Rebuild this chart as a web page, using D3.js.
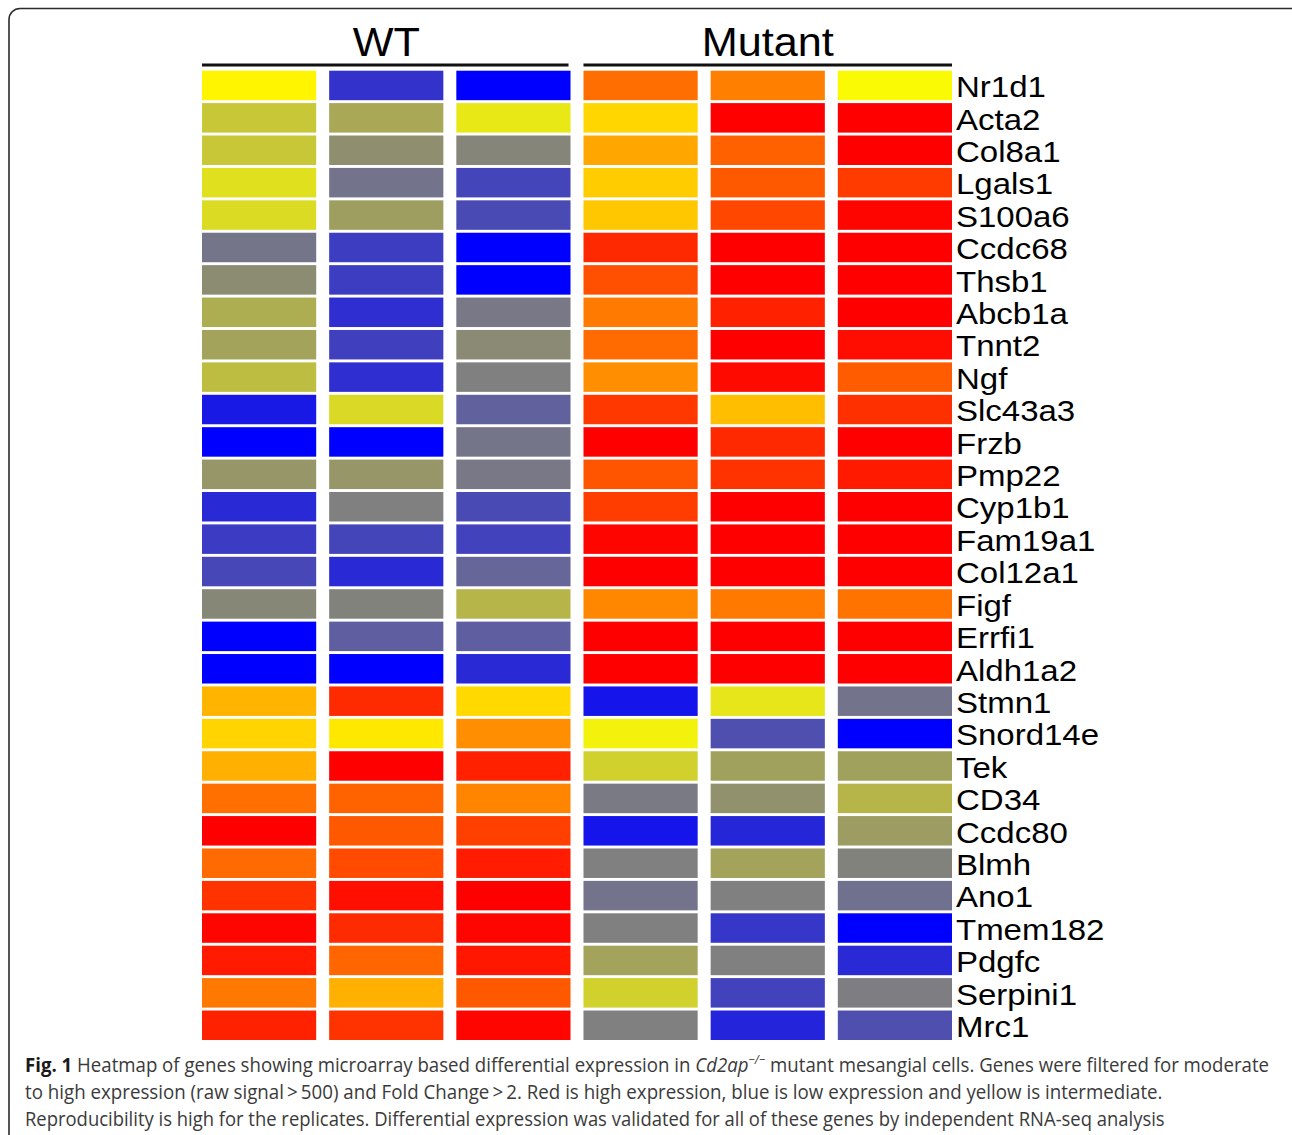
<!DOCTYPE html>
<html>
<head>
<meta charset="utf-8">
<script src="https://cdn.jsdelivr.net/npm/d3@7"></script>
<style>
  html, body { margin: 0; padding: 0; background: #ffffff; }
  svg { display: block; }
</style>
</head>
<body>
<svg id="chart" width="1292" height="1135"></svg>
<script>
// ---- data (relative expression: -1 = low/blue, 0 = intermediate/yellow, 1 = high/red)
const genes = ["Nr1d1","Acta2","Col8a1","Lgals1","S100a6","Ccdc68","Thsb1","Abcb1a","Tnnt2","Ngf",
  "Slc43a3","Frzb","Pmp22","Cyp1b1","Fam19a1","Col12a1","Figf","Errfi1","Aldh1a2","Stmn1",
  "Snord14e","Tek","CD34","Ccdc80","Blmh","Ano1","Tmem182","Pdgfc","Serpini1","Mrc1"];
const samples = ["WT1","WT2","WT3","Mut1","Mut2","Mut3"];
const groups = ["WT","Mutant"];
const groupSamples = [["WT1","WT2","WT3"],["Mut1","Mut2","Mut3"]];

const wt1  = [0.04,-0.22,-0.22,-0.12,-0.14,-0.54,-0.45,-0.32,-0.36,-0.26,-0.9,-1,-0.41,-0.84,-0.77,-0.72,-0.47,-1,-1,0.29,0.17,0.31,0.56,1,0.58,0.8,0.98,0.9,0.53,0.87];
const wt2  = [-0.8,-0.34,-0.44,-0.55,-0.38,-0.76,-0.76,-0.82,-0.75,-0.82,-0.15,-1,-0.41,-0.5,-0.73,-0.84,-0.49,-0.63,-1,0.83,0.09,1,0.61,0.65,0.71,0.94,0.83,0.6,0.31,0.8];
const wt3  = [-1,-0.09,-0.48,-0.73,-0.71,-1,-1,-0.53,-0.46,-0.5,-0.62,-0.54,-0.53,-0.71,-0.74,-0.6,-0.29,-0.63,-0.84,0.15,0.44,0.87,0.48,0.75,0.89,1,0.98,0.91,0.65,0.98];
const mut1 = [0.57,0.16,0.35,0.2,0.22,0.84,0.69,0.52,0.58,0.44,0.78,1,0.67,0.76,0.98,1,0.47,1,1,-0.92,-0.05,-0.18,-0.52,-0.92,-0.5,-0.55,-0.5,-0.36,-0.18,-0.5];
const mut2 = [0.5,1,0.62,0.65,0.72,1,1,0.87,1,0.96,0.25,0.84,0.8,1,1,1,0.53,1,1,-0.1,-0.69,-0.37,-0.43,-0.85,-0.36,-0.5,-0.79,-0.5,-0.74,-0.86];
const mut3 = [-0.02,1,1,0.77,0.98,1,1,1,0.95,0.64,0.81,1,0.9,1,1,1,0.55,1,1,-0.55,-1,-0.37,-0.29,-0.39,-0.49,-0.56,-1,-0.84,-0.51,-0.69];
const columns = [wt1, wt2, wt3, mut1, mut2, mut3];

const captionBold = "Fig. 1";
const captionLines = [
  [" Heatmap of genes showing microarray based differential expression in ", "Cd2ap", "\u2212/\u2212", " mutant mesangial cells. Genes were filtered for moderate"],
  ["to high expression (raw signal\u2009>\u2009500) and Fold Change\u2009>\u20092. Red is high expression, blue is low expression and yellow is intermediate."],
  ["Reproducibility is high for the replicates. Differential expression was validated for all of these genes by independent RNA-seq analysis"]
];

// ---- build cells
const cells = [];
genes.forEach((g, i) => samples.forEach((s, j) => cells.push({gene: g, sample: s, value: columns[j][i]})));

const svg = d3.select("#chart");

// frame
svg.append("rect")
  .attr("x", 9).attr("y", 8.5)
  .attr("width", 1300).attr("height", 1200)
  .attr("rx", 11).attr("ry", 11)
  .attr("fill", "none").attr("stroke", "#2b2b2b").attr("stroke-width", 1.6);

const x = d3.scaleBand().domain(samples).range([202, 952]).paddingInner(0.102).paddingOuter(0);
const y = d3.scaleBand().domain(genes).range([70.7, 1040]).paddingInner(0.09).paddingOuter(0);
const color = d3.scaleLinear().domain([-1, 0, 1]).range(["#0000ff", "#ffff00", "#ff0000"]).interpolate(d3.interpolateRgb);

svg.append("g").selectAll("rect")
  .data(cells)
  .join("rect")
  .attr("x", d => x(d.sample))
  .attr("y", d => y(d.gene))
  .attr("width", x.bandwidth())
  .attr("height", y.bandwidth())
  .attr("fill", d => color(d.value));

// group headers
const hdr = svg.append("g");
groups.forEach((grp, k) => {
  const ss = groupSamples[k];
  const x0 = x(ss[0]);
  const x1 = x(ss[ss.length - 1]) + x.bandwidth();
  hdr.append("line")
    .attr("x1", x0).attr("x2", x1 - (k === 0 ? 2 : 0))
    .attr("y1", 65).attr("y2", 65)
    .attr("stroke", "#111").attr("stroke-width", 3);
  hdr.append("text")
    .attr("transform", `translate(${(x0 + x1) / 2},56) scale(1.08,1)`)
    .attr("text-anchor", "middle")
    .attr("font-family", "Liberation Sans, Arial, sans-serif")
    .attr("font-size", 40)
    .attr("fill", "#000")
    .text(grp);
});

// gene labels
svg.append("g").selectAll("text")
  .data(genes)
  .join("text")
  .attr("transform", d => `translate(956,${y(d) + y.bandwidth() - 3}) scale(1.1,1)`)
  .attr("font-family", "Liberation Sans, Arial, sans-serif")
  .attr("font-size", 30)
  .attr("fill", "#000")
  .text(d => d);

// caption
const capFont = "Open Sans, Noto Sans, sans-serif";
const capTargets = [1270, 1163, 1165];
const capBaselines = [1072, 1099, 1126];
captionLines.forEach((parts, li) => {
  const t = svg.append("text")
    .attr("x", 25).attr("y", capBaselines[li])
    .attr("font-family", capFont)
    .attr("font-size", 19.5)
    .attr("fill", "#3a3a3a");
  if (li === 0) {
    t.append("tspan").attr("font-weight", "bold").attr("fill", "#1a1a1a").text(captionBold);
    t.append("tspan").text(parts[0]);
    t.append("tspan").attr("font-style", "italic").text(parts[1]);
    t.append("tspan").attr("font-style", "italic").attr("font-size", 12).attr("dy", -8).text(parts[2]);
    t.append("tspan").attr("dy", 8).text(parts[3]);
  } else {
    t.text(parts[0]);
  }
  const w = t.node().getBBox().width;
  if (w > 0) {
    const sx = (capTargets[li] - 25) / w;
    t.attr("transform", `translate(25,0) scale(${sx},1) translate(-25,0)`);
  }
});
</script>
</body>
</html>
